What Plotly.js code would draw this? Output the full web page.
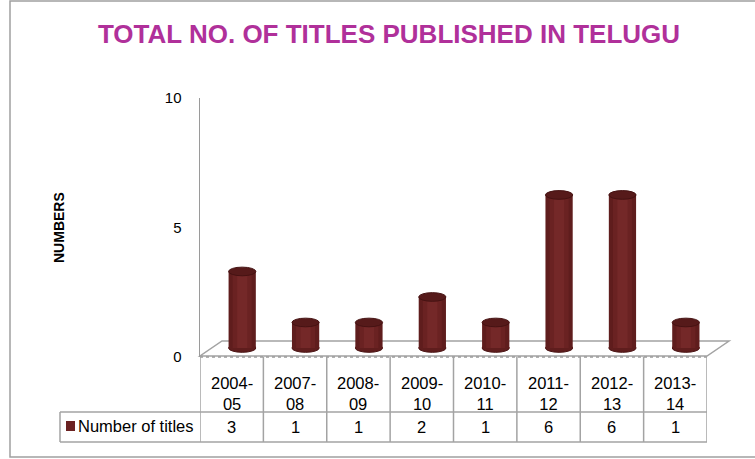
<!DOCTYPE html>
<html>
<head>
<meta charset="utf-8">
<script src="https://cdn.plot.ly/plotly-3.0.1.min.js"></script>
<style>html,body{margin:0;padding:0;background:#fff;}#chart{width:755px;height:459px;}</style>
</head>
<body>
<div id="chart"></div>
<script>
const categories = ["2004-05","2007-08","2008-09","2009-10","2010-11","2011-12","2012-13","2013-14"];
const titleCounts = [3, 1, 1, 2, 1, 6, 6, 1];
const seriesName = "Number of titles";
const yTicks = [0, 5, 10];
const chartTitle = "TOTAL NO. OF TITLES PUBLISHED IN TELUGU";
const yTitle = "NUMBERS";

const W = 755, H = 459;
const X = p => p / W;
const Y = p => 1 - p / H;
const FONT = "Liberation Sans, Arial, sans-serif";
const barColor = "#5f1d1d";
const shift = 0.166;      // 3D depth shift of bars (in category units)
const bw = 0.43;          // bar width
const eh = 0.17;          // ellipse half height (in value units)
const gridGray = "#a3a3a3";

const traces = [];
// cylinder body: layered bars for a shaded look
[[bw, barColor], [0.3, "#6a2222"], [0.16, "#742828"]].forEach(([w, c]) => {
  traces.push({
    type: "bar", x: categories, y: titleCounts, name: seriesName,
    width: w, offset: shift - w / 2,
    marker: {color: c, line: {width: 0}},
    xaxis: "x", yaxis: "y", hoverinfo: "skip", showlegend: false
  });
});
// dummy trace for the visible value axis
traces.push({type: "scatter", x: [categories[0]], y: [0], xaxis: "x", yaxis: "y2",
  mode: "markers", marker: {opacity: 0}, hoverinfo: "skip", showlegend: false});

const shapes = [];
// chart border
shapes.push({type: "rect", xref: "paper", yref: "paper", x0: X(10), x1: X(760), y0: Y(457), y1: Y(1),
  line: {color: "#a0a0a0", width: 1.5}, layer: "below"});
// 3D floor
shapes.push({type: "path", xref: "paper", yref: "paper",
  path: `M ${X(200)} ${Y(356)} L ${X(707)} ${Y(356)} L ${X(729)} ${Y(341)} L ${X(222)} ${Y(341)} Z`,
  fillcolor: "#ffffff", line: {color: gridGray, width: 1.5}, layer: "below"});
shapes.push({type: "line", xref: "paper", yref: "paper", x0: X(200), x1: X(707), y0: Y(357), y1: Y(357),
  line: {color: "#9a9a9a", width: 1.5, dash: "dot"}, layer: "below"});
// cylinder bottoms and tops
titleCounts.forEach((v, i) => {
  const c = i + shift;
  shapes.push({type: "circle", xref: "x", yref: "y", x0: c - bw / 2, x1: c + bw / 2, y0: -eh, y1: eh,
    fillcolor: barColor, line: {color: "#4a1414", width: 1}, layer: "below"});
  shapes.push({type: "circle", xref: "x", yref: "y", x0: c - bw / 2, x1: c + bw / 2, y0: v - eh, y1: v + eh,
    fillcolor: "#561a1a", line: {color: "#451212", width: 1}, layer: "above"});
});
// data table
const n = categories.length;
for (let k = 0; k <= n; k++) {
  const edge = (k === 0 || k === n);
  shapes.push({type: "line", xref: "x", yref: "paper", x0: k - 0.5, x1: k - 0.5,
    y0: Y(edge ? 442 : 442), y1: Y(edge ? 356 : 357), line: {color: gridGray, width: 1.5}});
}
shapes.push({type: "line", xref: "paper", yref: "paper", x0: X(60), x1: X(707), y0: Y(412), y1: Y(412),
  line: {color: gridGray, width: 1.5}});
shapes.push({type: "line", xref: "paper", yref: "paper", x0: X(60), x1: X(707), y0: Y(442), y1: Y(442),
  line: {color: gridGray, width: 1.5}});
shapes.push({type: "line", xref: "paper", yref: "paper", x0: X(60), x1: X(60), y0: Y(412), y1: Y(442),
  line: {color: gridGray, width: 1.5}});
// legend key
shapes.push({type: "rect", xref: "paper", yref: "paper", x0: X(66), x1: X(75), y0: Y(431), y1: Y(421),
  fillcolor: "#6b2222", line: {width: 0}});

const annotations = [];
categories.forEach((cat, i) => {
  const parts = cat.split("-");
  annotations.push({xref: "x", yref: "paper", x: cat, y: Y(393), text: parts[0] + "-<br>" + parts[1],
    showarrow: false, xanchor: "center", yanchor: "middle", font: {family: FONT, size: 16.5, color: "#000"}});
  annotations.push({xref: "x", yref: "paper", x: cat, y: Y(427), text: String(titleCounts[i]),
    showarrow: false, xanchor: "center", yanchor: "middle", font: {family: FONT, size: 16.5, color: "#000"}});
});
annotations.push({xref: "paper", yref: "paper", x: X(76), y: Y(426), text: seriesName, showarrow: false,
  xanchor: "left", yanchor: "middle", font: {family: FONT, size: 16.5, color: "#000"}});
annotations.push({xref: "paper", yref: "paper", x: X(59), y: Y(227), text: yTitle, textangle: -90,
  showarrow: false, xanchor: "center", yanchor: "middle",
  font: {family: FONT, size: 14, color: "#000", weight: "bold"}});

const layout = {
  width: W, height: H,
  margin: {l: 0, r: 0, t: 0, b: 0},
  paper_bgcolor: "#fff", plot_bgcolor: "rgba(0,0,0,0)",
  showlegend: false, barmode: "overlay",
  title: {text: chartTitle, x: X(389), xanchor: "center", y: Y(34), yanchor: "middle",
    font: {family: FONT, size: 26, color: "#B0309A", weight: "bold"}},
  xaxis: {domain: [X(200), X(707)], type: "category", categoryarray: categories, categoryorder: "array",
    range: [-0.5, n - 0.5], showticklabels: false, showline: false, showgrid: false, zeroline: false, fixedrange: true},
  yaxis: {domain: [Y(357), Y(98)], range: [-0.353, 9.80], visible: false, fixedrange: true},
  yaxis2: {overlaying: "y", anchor: "x", side: "left", range: [0, 10], tickvals: yTicks,
    showline: true, linecolor: "#9a9a9a", linewidth: 1.5, showgrid: false, zeroline: false,
    ticks: "", ticklabelstandoff: 14, tickfont: {family: FONT, size: 15, color: "#000"}, fixedrange: true},
  shapes: shapes,
  annotations: annotations
};

Plotly.newPlot("chart", traces, layout, {displayModeBar: false, staticPlot: true});
</script>
</body>
</html>
